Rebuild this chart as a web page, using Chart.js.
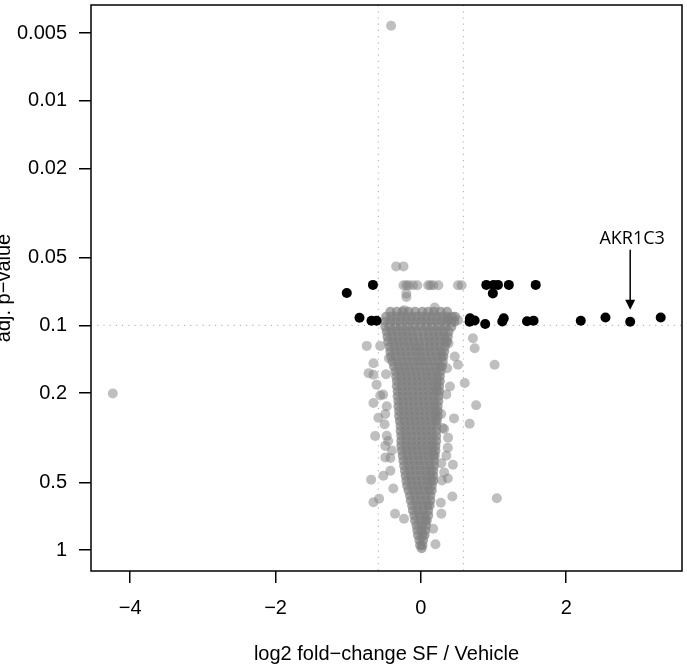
<!DOCTYPE html>
<html>
<head>
<meta charset="utf-8">
<script src="https://cdn.jsdelivr.net/npm/chart.js@4.4.1/dist/chart.umd.min.js"></script>
<style>
  html, body { margin: 0; padding: 0; background: #fff; }
  #wrap { width: 687px; height: 667px; position: relative; }
</style>
</head>
<body>
<div id="wrap"><canvas id="volcano"></canvas></div>
<script>
// Volcano plot: log2 fold-change vs adjusted p-value (reversed log axis)

const X_TICKS = [-4, -2, 0, 2];
const X_TICK_LABELS = ['\u22124', '\u22122', '0', '2'];
const Y_TICKS = [0.005, 0.01, 0.02, 0.05, 0.1, 0.2, 0.5, 1];
const Y_TICK_LABELS = ['0.005', '0.01', '0.02', '0.05', '0.1', '0.2', '0.5', '1'];

const FC_CUTOFF = 0.585;   // log2(1.5)
const P_CUTOFF = 0.1;

// significant genes [log2FC, adj.p]
const sigGenes = [
  [-1.02, 0.0717], [-0.66, 0.066], [-0.845, 0.0925], [-0.68, 0.0953], [-0.61, 0.0953],
  [0.675, 0.093], [0.67, 0.0963], [0.74, 0.095], [0.885, 0.0986],
  [0.90, 0.066], [1.00, 0.066], [1.06, 0.066], [1.21, 0.066], [0.99, 0.072],
  [1.14, 0.093], [1.12, 0.096], [1.58, 0.066], [1.46, 0.0958], [1.55, 0.0952],
  [2.20, 0.0953], [2.54, 0.0922], [2.88, 0.0963], [3.30, 0.0922]
];

const labelled = [{ gene: 'AKR1C3', x: 2.88, p: 0.0963 }];

// scattered non-significant genes [log2FC, adj.p]
const grayOutliers = [
  [-0.41, 0.00464], [-4.24, 0.201], [-0.34, 0.0546], [-0.24, 0.0546],
  [-0.24, 0.0663], [-0.20, 0.0663], [-0.17, 0.0663], [-0.11, 0.0663], [-0.05, 0.0663],
  [0.10, 0.0663], [0.13, 0.0663], [0.17, 0.0663], [0.24, 0.0663], [0.51, 0.0663], [0.56, 0.0663],
  [-0.20, 0.0722], [0.19, 0.0833], [-0.23, 0.0855], [-0.20, 0.0747],
  [-0.745, 0.1233], [-0.56, 0.1233], [-0.653, 0.1472], [-0.653, 0.1657], [-0.72, 0.163],
  [0.374, 0.0931], [0.51, 0.0947], [0.716, 0.1141], [0.74, 0.1264], [0.466, 0.1375],
  [0.51, 0.1496], [0.603, 0.1804], [1.014, 0.1496],
  [-0.653, 0.2212], [-0.585, 0.2576], [-0.63, 0.3103], [-0.49, 0.3436], [-0.61, 0.1834],
  [-0.52, 0.2031], [-0.56, 0.205], [-0.49, 0.387], [-0.49, 0.248], [-0.47, 0.31], [-0.42, 0.389],
  [0.76, 0.2264], [0.456, 0.2592], [0.671, 0.2739], [0.374, 0.3157], [0.44, 0.4169], [0.32, 0.4508],
  [0.35, 0.203], [0.28, 0.248], [0.30, 0.286], [0.37, 0.35], [0.28, 0.41],
  [1.045, 0.5875], [-0.685, 0.4855], [-0.516, 0.4662], [-0.653, 0.6117], [-0.575, 0.5909],
  [-0.356, 0.688], [-0.233, 0.7244], [0.433, 0.577], [0.274, 0.6155], [0.282, 0.688],
  [0.168, 0.802], [0.20, 0.9408],
  [-0.50, 0.275], [-0.45, 0.327], [-0.47, 0.229], [-0.42, 0.443], [-0.38, 0.532],
  [-0.44, 0.14], [-0.48, 0.165], [-0.40, 0.36],
  [0.40, 0.187], [0.32, 0.289], [0.35, 0.38], [0.29, 0.49], [0.37, 0.48], [0.38, 0.12], [0.36, 0.155]
];

// dense central funnel, one row per adj.p level: [adj.p, [log2FC ...]]
const coreRows = [
  [0.0870, [-0.42, -0.33, -0.25, -0.17, -0.08, 0.02, 0.10, 0.18, 0.27, 0.36]],
  [0.0915, [-0.48, -0.41, -0.34, -0.27, -0.20, -0.13, -0.06, 0.01, 0.08, 0.15, 0.22, 0.29, 0.36, 0.43, 0.47]],
  [0.0963, [-0.49, -0.42, -0.35, -0.28, -0.21, -0.14, -0.07, 0.00, 0.07, 0.14, 0.21, 0.28, 0.35, 0.42, 0.46]],
  [0.1013, [-0.49, -0.42, -0.35, -0.28, -0.21, -0.14, -0.07, 0.00, 0.07, 0.14, 0.21, 0.28, 0.35, 0.42]],
  [0.1066, [-0.47, -0.40, -0.33, -0.26, -0.19, -0.12, -0.05, 0.03, 0.10, 0.17, 0.24, 0.31, 0.38]],
  [0.1122, [-0.46, -0.39, -0.32, -0.25, -0.18, -0.11, -0.04, 0.04, 0.11, 0.18, 0.25, 0.32, 0.37]],
  [0.1180, [-0.45, -0.38, -0.31, -0.24, -0.17, -0.10, -0.03, 0.05, 0.12, 0.19, 0.26, 0.33, 0.36]],
  [0.1242, [-0.43, -0.36, -0.29, -0.22, -0.15, -0.08, -0.02, 0.05, 0.12, 0.19, 0.26, 0.33]],
  [0.1307, [-0.42, -0.35, -0.28, -0.21, -0.14, -0.07, -0.01, 0.06, 0.13, 0.20, 0.27, 0.32]],
  [0.1375, [-0.41, -0.34, -0.27, -0.20, -0.13, -0.06, 0.00, 0.07, 0.14, 0.21, 0.28, 0.31]],
  [0.1447, [-0.39, -0.32, -0.25, -0.18, -0.11, -0.04, 0.02, 0.09, 0.16, 0.23, 0.30]],
  [0.1522, [-0.37, -0.30, -0.23, -0.16, -0.09, -0.02, 0.05, 0.12, 0.19, 0.26, 0.29]],
  [0.1602, [-0.35, -0.28, -0.21, -0.14, -0.07, 0.00, 0.07, 0.14, 0.21, 0.27]],
  [0.1685, [-0.34, -0.27, -0.20, -0.13, -0.06, 0.01, 0.08, 0.15, 0.22, 0.26]],
  [0.1773, [-0.33, -0.26, -0.19, -0.12, -0.05, 0.02, 0.09, 0.16, 0.22, 0.26]],
  [0.1866, [-0.33, -0.26, -0.19, -0.12, -0.05, 0.02, 0.09, 0.16, 0.21, 0.25]],
  [0.1963, [-0.32, -0.25, -0.18, -0.11, -0.04, 0.03, 0.10, 0.17, 0.22, 0.25]],
  [0.2065, [-0.32, -0.25, -0.18, -0.11, -0.04, 0.03, 0.10, 0.17, 0.24]],
  [0.2174, [-0.31, -0.24, -0.17, -0.10, -0.03, 0.04, 0.11, 0.18, 0.24]],
  [0.2287, [-0.31, -0.24, -0.17, -0.10, -0.03, 0.04, 0.11, 0.18, 0.23]],
  [0.2406, [-0.30, -0.23, -0.16, -0.09, -0.02, 0.05, 0.12, 0.19, 0.23]],
  [0.2532, [-0.30, -0.23, -0.16, -0.09, -0.02, 0.05, 0.12, 0.19, 0.23]],
  [0.2664, [-0.29, -0.22, -0.15, -0.08, -0.01, 0.06, 0.13, 0.20, 0.22]],
  [0.2803, [-0.28, -0.21, -0.14, -0.07, 0.00, 0.07, 0.14, 0.21]],
  [0.2949, [-0.28, -0.21, -0.14, -0.07, 0.00, 0.07, 0.14, 0.21]],
  [0.3103, [-0.27, -0.20, -0.13, -0.06, 0.01, 0.08, 0.15, 0.21]],
  [0.3265, [-0.27, -0.20, -0.13, -0.06, 0.01, 0.08, 0.15, 0.21]],
  [0.3436, [-0.27, -0.20, -0.13, -0.06, 0.01, 0.08, 0.15, 0.20]],
  [0.3615, [-0.26, -0.19, -0.12, -0.05, 0.02, 0.09, 0.16, 0.20]],
  [0.3804, [-0.25, -0.18, -0.11, -0.04, 0.03, 0.10, 0.17, 0.19]],
  [0.4002, [-0.24, -0.17, -0.10, -0.03, 0.04, 0.11, 0.18]],
  [0.4211, [-0.23, -0.16, -0.09, -0.02, 0.05, 0.12, 0.18]],
  [0.4431, [-0.22, -0.15, -0.08, -0.01, 0.06, 0.13, 0.17]],
  [0.4662, [-0.21, -0.14, -0.07, 0.00, 0.07, 0.13, 0.17]],
  [0.4905, [-0.20, -0.13, -0.06, 0.01, 0.08, 0.14, 0.17]],
  [0.5161, [-0.19, -0.12, -0.05, 0.02, 0.09, 0.15]],
  [0.5431, [-0.17, -0.10, -0.03, 0.04, 0.11, 0.15]],
  [0.5714, [-0.15, -0.08, -0.01, 0.06, 0.13]],
  [0.6012, [-0.14, -0.07, 0.00, 0.07, 0.13]],
  [0.6327, [-0.12, -0.05, 0.02, 0.09, 0.12]],
  [0.6657, [-0.11, -0.04, 0.03, 0.10]],
  [0.7004, [-0.09, -0.02, 0.05, 0.10]],
  [0.7370, [-0.08, -0.01, 0.06, 0.08]],
  [0.7755, [-0.06, 0.01, 0.07]],
  [0.8160, [-0.05, 0.01, 0.06]],
  [0.8586, [-0.04, 0.02, 0.05]],
  [0.9034, [-0.02, 0.03]],
  [0.9504, [-0.01, 0.02]],
  [0.98, [0.01]]
];

const FONT = "'Liberation Sans', Arial, sans-serif";
Chart.defaults.font.family = FONT;
Chart.defaults.color = '#000';

const corePts = [];
coreRows.forEach(([p, xs]) => xs.forEach(x => corePts.push({ x, y: p })));
const outlierPts = grayOutliers.map(([x, p]) => ({ x, y: p }));
const sigPts = sigGenes.map(([x, p]) => ({ x, y: p }));

// cutoff lines go right after the grey cloud, under the black points
const cutoffLines = {
  id: 'cutoffLines',
  afterDatasetDraw(chart, args) {
    if (args.index !== 1) return;
    const { ctx, chartArea: a, scales: { x, y } } = chart;
    ctx.save();
    ctx.strokeStyle = '#b8b8b8';
    ctx.lineWidth = 1.2;
    ctx.setLineDash([1.2, 5]);
    ctx.beginPath();
    for (const v of [-FC_CUTOFF, FC_CUTOFF]) {
      const px = x.getPixelForValue(v);
      ctx.moveTo(px, a.top); ctx.lineTo(px, a.bottom);
    }
    const py = y.getPixelForValue(P_CUTOFF);
    ctx.moveTo(a.left, py); ctx.lineTo(a.right, py);
    ctx.stroke();
    ctx.restore();
  }
};

const frameAndLabels = {
  id: 'frameAndLabels',
  afterDraw(chart) {
    const { ctx, chartArea: a, scales: { x, y } } = chart;
    ctx.save();
    ctx.strokeStyle = '#000';
    ctx.lineWidth = 1.5;
    ctx.strokeRect(a.left, a.top, a.right - a.left, a.bottom - a.top);

    for (const l of labelled) {
      const px = x.getPixelForValue(l.x);
      const py = y.getPixelForValue(l.p);
      ctx.fillStyle = '#000';
      ctx.font = "18px 'Open Sans', sans-serif";
      ctx.textAlign = 'center';
      ctx.textBaseline = 'alphabetic';
      ctx.fillText(l.gene, px + 2, py - 78);
      ctx.beginPath();
      ctx.moveTo(px, py - 72);
      ctx.lineTo(px, py - 20);
      ctx.stroke();
      ctx.beginPath();
      ctx.moveTo(px - 5, py - 22);
      ctx.lineTo(px + 5, py - 22);
      ctx.lineTo(px, py - 12);
      ctx.closePath();
      ctx.fill();
    }
    ctx.restore();
  }
};

// kill the automatic label overhang padding so the plot box fills the canvas
const noPad = s => { s.paddingTop = 0; s.paddingBottom = 0; s.paddingLeft = 0; s.paddingRight = 0; };

new Chart(document.getElementById('volcano'), {
  type: 'scatter',
  data: {
    datasets: [
      {
        label: 'significant',
        data: sigPts,
        backgroundColor: '#000',
        borderWidth: 0,
        pointRadius: 5,
        pointHoverRadius: 5,
        order: 1
      },
      {
        label: 'dense',
        data: corePts,
        backgroundColor: 'rgba(128,128,128,0.68)',
        borderWidth: 0,
        pointRadius: 5,
        pointHoverRadius: 5,
        order: 2
      },
      {
        label: 'other',
        data: outlierPts,
        backgroundColor: 'rgba(128,128,128,0.5)',
        borderWidth: 0,
        pointRadius: 5,
        pointHoverRadius: 5,
        order: 3
      }
    ]
  },
  options: {
    responsive: true,
    maintainAspectRatio: false,
    animation: false,
    layout: { padding: { top: 1, right: 2, left: 0, bottom: 0 } },
    plugins: { legend: { display: false }, tooltip: { enabled: false } },
    scales: {
      x: {
        type: 'linear',
        bounds: 'data',
        min: -4.54,
        max: 3.593,
        afterBuildTicks: s => { s.ticks = X_TICKS.map(v => ({ value: v })); },
        afterFit: s => { s.height = 96; noPad(s); },
        ticks: {
          callback: (v, i) => X_TICK_LABELS[i],
          font: { size: 20 },
          color: '#000',
          padding: 13,
          maxRotation: 0,
          autoSkip: false
        },
        grid: { drawOnChartArea: false, color: '#000', lineWidth: 1.5, tickLength: 12 },
        border: { display: false },
        title: {
          display: true,
          text: 'log2 fold\u2212change SF / Vehicle',
          font: { size: 20 },
          color: '#000',
          padding: { top: 0, bottom: 1 }
        }
      },
      y: {
        type: 'logarithmic',
        bounds: 'data',
        reverse: true,
        min: 0.00375,
        max: 1.238,
        afterBuildTicks: s => { s.ticks = Y_TICKS.map(v => ({ value: v })); },
        afterFit: s => { s.width = 91; noPad(s); },
        ticks: {
          callback: (v, i) => Y_TICK_LABELS[i],
          font: { size: 20 },
          color: '#000',
          padding: 12,
          autoSkip: false
        },
        grid: { drawOnChartArea: false, color: '#000', lineWidth: 1.5, tickLength: 12 },
        border: { display: false },
        title: {
          display: true,
          text: 'adj. p\u2212value',
          font: { size: 20, lineHeight: 1 },
          color: '#000',
          padding: { top: -6, bottom: 0 }
        }
      }
    }
  },
  plugins: [cutoffLines, frameAndLabels]
});
</script>
</body>
</html>
